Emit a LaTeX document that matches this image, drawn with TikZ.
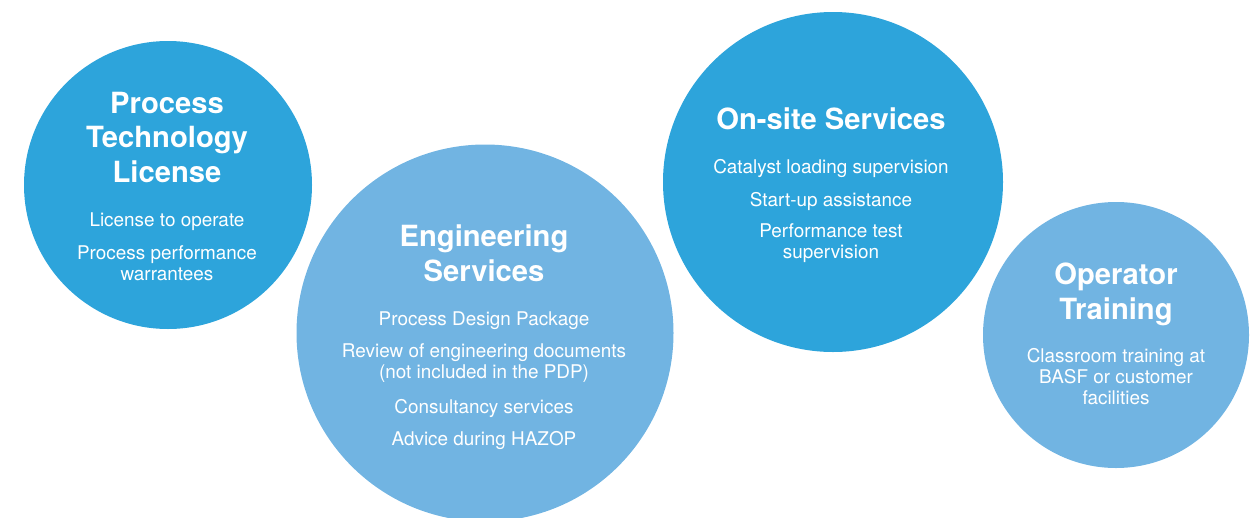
\documentclass[tikz,border=0pt]{standalone}
\usepackage{fontspec}
\setmainfont{TeX Gyre Heros}

\definecolor{bluedark}{HTML}{2DA4DB}
\definecolor{bluelight}{HTML}{71B4E2}

\begin{document}
\begin{tikzpicture}[x=1pt, y=-1pt,
    bubble/.style={circle, inner sep=0pt},
    heading/.style={text=white, align=center, anchor=base, font=\fontsize{29.2}{34.5}\selectfont\bfseries},
    item/.style={text=white, align=center, anchor=base, font=\fontsize{18.9}{20.7}\selectfont}]
    \clip (0,0) rectangle (1258,517);

    % process technology license
    \node[bubble, fill=bluedark, minimum size=288] (license) at (168,185) {};
    \node[heading] (licenseTitle) at (167,182) {Process\\Technology\\License};
    \node[item] (licenseA) at (167,226) {License to operate};
    \node[item] (licenseB) at (167,280) {Process performance\\warrantees};

    % engineering services
    \node[bubble, fill=bluelight, minimum size=377] (engineering) at (485,333) {};
    \node[heading] (engineeringTitle) at (484,281) {Engineering\\Services};
    \node[item] (engineeringA) at (484,325) {Process Design Package};
    \node[item] (engineeringB) at (484,378) {Review of engineering documents\\(not included in the PDP)};
    \node[item] (engineeringC) at (484,413) {Consultancy services};
    \node[item] (engineeringD) at (484,445) {Advice during HAZOP};

    % on-site services
    \node[bubble, fill=bluedark, minimum size=340] (onsite) at (833,182) {};
    \node[heading] (onsiteTitle) at (831,129) {On-site Services};
    \node[item] (onsiteA) at (831,173) {Catalyst loading supervision};
    \node[item] (onsiteB) at (831,206) {Start-up assistance};
    \node[item] (onsiteC) at (831,258) {Performance test\\supervision};

    % operator training
    \node[bubble, fill=bluelight, minimum size=266] (training) at (1116,335) {};
    \node[heading] (trainingTitle) at (1116,319) {Operator\\Training};
    \node[item] (trainingA) at (1116,404) {Classroom training at\\BASF or customer\\facilities};
\end{tikzpicture}
\end{document}
